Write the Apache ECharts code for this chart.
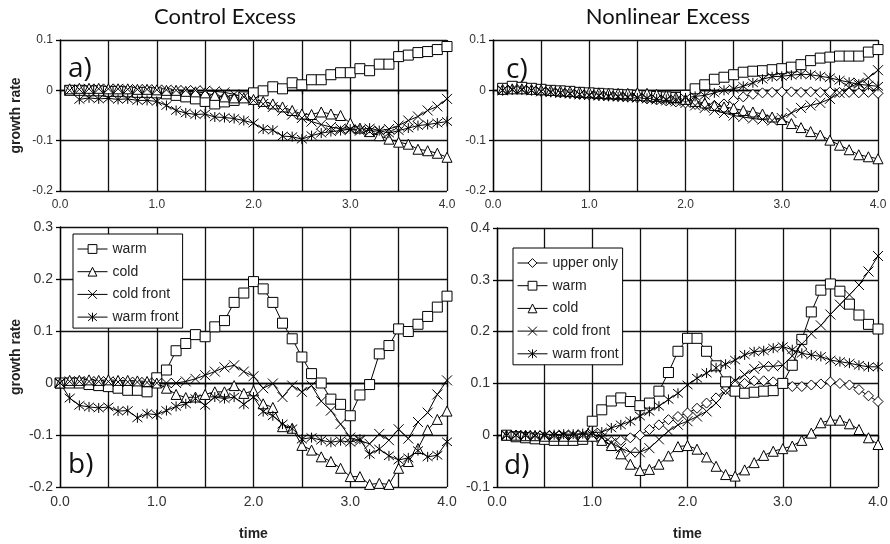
<!DOCTYPE html>
<html>
<head>
<meta charset="utf-8">
<script src="https://cdn.jsdelivr.net/npm/echarts@6/dist/echarts.min.js"></script>
<style>
  html, body { margin: 0; padding: 0; background: #fff; }
  #chart { width: 890px; height: 544px; }
</style>
</head>
<body>
<div id="chart"></div>
<script>
// time axis, one entry every 0.1
const time = [0.0, 0.1, 0.2, 0.3, 0.4, 0.5, 0.6, 0.7, 0.8, 0.9,
  1.0, 1.1, 1.2, 1.3, 1.4, 1.5, 1.6, 1.7, 1.8, 1.9,
  2.0, 2.1, 2.2, 2.3, 2.4, 2.5, 2.6, 2.7, 2.8, 2.9,
  3.0, 3.1, 3.2, 3.3, 3.4, 3.5, 3.6, 3.7, 3.8, 3.9, 4.0]

// a) control excess, top
const aWarm = [null, 0, 0, -0.001, -0.001, -0.002, -0.002, -0.003, -0.004, -0.004,
  -0.005, -0.007, -0.01, -0.013, -0.017, -0.022, -0.027, -0.023, -0.02, -0.013,
  -0.005, -0.001, 0.007, 0.003, 0.015, 0.011, 0.021, 0.021, 0.031, 0.035,
  0.035, 0.043, 0.039, 0.052, 0.052, 0.067, 0.07, 0.075, 0.077, 0.081, 0.087]
const aCold = [null, 0.003, 0.004, 0.004, 0.004, 0.003, 0.003, 0.003, 0.002, 0.002,
  0.001, 0.0, 0.0, -0.002, -0.003, -0.005, -0.01, -0.013, -0.015, -0.015,
  -0.018, -0.022, -0.027, -0.033, -0.04, -0.047, -0.048, -0.043, -0.047, -0.05,
  -0.065, -0.075, -0.082, -0.09, -0.097, -0.103, -0.107, -0.117, -0.12, -0.125, -0.133]
const aColdFront = [null, 0.0, 0.002, 0.003, 0.003, 0.003, 0.003, 0.002, 0.002, 0.002,
  0.001, 0.001, 0.0, 0.0, 0.0, -0.001, -0.002, -0.004, -0.008, -0.013,
  -0.02, -0.027, -0.033, -0.04, -0.048, -0.055, -0.062, -0.068, -0.073, -0.076,
  -0.078, -0.08, -0.082, -0.08, -0.077, -0.07, -0.06, -0.052, -0.04, -0.032, -0.017]
const aWarmFront = [null, null, -0.018, -0.015, -0.017, -0.016, -0.018, -0.017, -0.02, -0.02,
  -0.022, -0.03, -0.04, -0.045, -0.048, -0.047, -0.053, -0.054, -0.056, -0.06,
  -0.065, -0.077, -0.079, -0.091, -0.092, -0.097, -0.09, -0.085, -0.082, -0.08,
  -0.077, -0.078, -0.075, -0.08, -0.085, -0.08, -0.075, -0.07, -0.068, -0.065, -0.062]

// b) control excess, bottom
const bWarm = [0, 0, 0, -0.003, -0.005, -0.007, -0.01, -0.014, -0.014, -0.017,
  0.01, 0.025, 0.062, 0.076, 0.093, 0.089, 0.108, 0.12, 0.155, 0.173,
  0.195, 0.181, 0.155, 0.115, 0.085, 0.05, 0.018, 0, -0.031, -0.041,
  -0.063, -0.023, -0.003, 0.056, 0.072, 0.104, 0.099, 0.113, 0.128, 0.146, 0.167]
const bCold = [0, 0.005, 0.005, 0.006, 0.005, 0.006, 0.005, 0.005, 0.004, 0.003,
  0.0, -0.01, -0.022, -0.028, -0.027, -0.022, -0.017, -0.017, -0.005, -0.02,
  -0.015, -0.04, -0.047, -0.084, -0.087, -0.12, -0.129, -0.142, -0.151, -0.164,
  -0.18, -0.18, -0.195, -0.193, -0.195, -0.164, -0.151, -0.126, -0.09, -0.07, -0.054]
const bColdFront = [0, 0.003, 0.003, 0.003, 0.003, 0.003, 0.002, 0.002, 0.002, 0.001,
  0.0, 0.0, 0.0, 0.003, 0.008, 0.015, 0.022, 0.03, 0.034, 0.022,
  0.013, -0.01, -0.001, -0.027, -0.005, -0.017, -0.005, -0.035, -0.053, -0.079,
  -0.105, -0.111, -0.117, -0.098, -0.11, -0.089, -0.107, -0.075, -0.057, -0.022, 0.005]
const bWarmFront = [0, -0.029, -0.043, -0.046, -0.048, -0.046, -0.054, -0.053, -0.067, -0.059,
  -0.061, -0.053, -0.045, -0.04, -0.03, -0.043, -0.027, -0.03, -0.027, -0.041,
  -0.027, -0.055, -0.063, -0.079, -0.088, -0.108, -0.105, -0.11, -0.114, -0.111,
  -0.114, -0.108, -0.137, -0.127, -0.14, -0.148, -0.144, -0.13, -0.142, -0.139, -0.113]

// c) nonlinear excess, top
const cUpper = [null, 0.0, 0.002, 0.002, 0.0, -0.002, -0.003, -0.005, -0.006, -0.008,
  -0.009, -0.01, -0.011, -0.012, -0.013, -0.015, -0.017, -0.019, -0.021, -0.023,
  -0.025, -0.028, -0.03, -0.03, -0.027, -0.02, -0.013, -0.008, -0.005, -0.004,
  -0.003, -0.003, -0.004, -0.003, -0.004, -0.003, -0.004, -0.004, -0.005, -0.004, -0.006]
const cWarm = [null, 0.004, 0.008, 0.006, 0.004, 0.002, 0.0, -0.001, -0.002, -0.004,
  -0.005, -0.006, -0.007, -0.008, -0.009, -0.01, -0.011, -0.012, -0.013, -0.014,
  -0.01, 0.003, 0.011, 0.022, 0.026, 0.031, 0.036, 0.038, 0.039, 0.041,
  0.043, 0.046, 0.051, 0.059, 0.064, 0.066, 0.068, 0.068, 0.068, 0.076, 0.081]
const cCold = [null, 0.002, 0.003, 0.003, 0.002, 0.001, 0.0, -0.001, -0.002, -0.003,
  -0.004, -0.005, -0.006, -0.006, -0.006, -0.005, -0.006, -0.008, -0.01, -0.014,
  -0.018, -0.022, -0.025, -0.03, -0.033, -0.036, -0.04, -0.043, -0.047, -0.053,
  -0.058, -0.066, -0.074, -0.082, -0.089, -0.099, -0.109, -0.118, -0.128, -0.132, -0.136]
const cColdFront = [null, 0.0, 0.002, 0.002, 0.0, -0.002, -0.003, -0.005, -0.006, -0.008,
  -0.009, -0.01, -0.011, -0.012, -0.013, -0.014, -0.016, -0.018, -0.02, -0.022,
  -0.025, -0.03, -0.035, -0.04, -0.045, -0.05, -0.053, -0.056, -0.058, -0.06,
  -0.055, -0.045, -0.035, -0.03, -0.025, -0.017, -0.005, 0.005, 0.015, 0.025, 0.04]
const cWarmFront = [null, 0.0, 0.001, 0.001, 0.0, -0.002, -0.004, -0.005, -0.007, -0.008,
  -0.01, -0.011, -0.012, -0.013, -0.014, -0.015, -0.016, -0.017, -0.018, -0.018,
  -0.015, -0.012, -0.01, -0.005, 0.0, 0.003, 0.008, 0.015, 0.022, 0.027,
  0.028, 0.03, 0.032, 0.031, 0.028, 0.025, 0.02, 0.016, 0.012, 0.01, 0.008]

// d) nonlinear excess, bottom
const dUpper = [null, 0.0, 0.0, -0.001, -0.002, -0.003, -0.004, -0.005, -0.005, -0.005,
  -0.004, -0.008, -0.012, -0.01, -0.005, 0.0, 0.011, 0.02, 0.03, 0.036,
  0.043, 0.052, 0.062, 0.072, 0.088, 0.099, 0.1, 0.105, 0.105, 0.103,
  0.1, 0.094, 0.094, 0.097, 0.099, 0.103, 0.1, 0.097, 0.088, 0.076, 0.065]
const dWarm = [null, 0.0, -0.003, -0.005, -0.007, -0.008, -0.01, -0.01, -0.01, -0.008,
  0.027, 0.049, 0.066, 0.072, 0.065, 0.057, 0.062, 0.085, 0.121, 0.162,
  0.187, 0.187, 0.162, 0.134, 0.103, 0.085, 0.081, 0.083, 0.085, 0.086,
  0.1, 0.135, 0.185, 0.238, 0.28, 0.292, 0.278, 0.253, 0.232, 0.214, 0.205]
const dCold = [null, 0.0, 0.0, -0.001, -0.001, -0.002, -0.002, -0.002, -0.002, -0.002,
  -0.002, -0.01, -0.02, -0.036, -0.056, -0.068, -0.066, -0.056, -0.04, -0.022,
  -0.02, -0.027, -0.042, -0.06, -0.076, -0.079, -0.067, -0.053, -0.039, -0.031,
  -0.026, -0.021, -0.01, 0.004, 0.024, 0.029, 0.029, 0.022, 0.011, -0.005, -0.018]
const dColdFront = [null, 0.0, 0.0, 0.0, -0.001, -0.001, -0.001, -0.001, -0.001, 0.0,
  0.0, -0.005, -0.015, -0.025, -0.033, -0.033, -0.025, -0.008, 0.008, 0.02,
  0.027, 0.036, 0.046, 0.062, 0.085, 0.105, 0.117, 0.128, 0.133, 0.133,
  0.135, 0.153, 0.176, 0.196, 0.212, 0.233, 0.252, 0.271, 0.29, 0.316, 0.346]
const dWarmFront = [null, 0.0, 0.0, 0.0, 0.0, 0.001, 0.001, 0.002, 0.002, 0.003,
  0.005, 0.006, 0.014, 0.02, 0.027, 0.037, 0.046, 0.056, 0.069, 0.081,
  0.097, 0.11, 0.12, 0.13, 0.137, 0.145, 0.155, 0.161, 0.163, 0.168,
  0.171, 0.165, 0.158, 0.155, 0.152, 0.145, 0.142, 0.139, 0.135, 0.132, 0.132]

const FONT = 'Liberation Sans'

// marker for each series name
const markers = {
  'upper only': { symbol: 'diamond', size: 10 },
  'warm': { symbol: 'rect', size: 10 },
  'cold': { symbol: 'triangle', size: 10 },
  'cold front': { symbol: 'path://M0,0L10,10M10,0L0,10', size: 10 },
  'warm front': { symbol: 'path://M0,0L10,10M10,0L0,10M5,-1L5,11', size: 10 }
}

function pairs(vals) {
  const out = []
  vals.forEach((v, i) => { if (v !== null) out.push([time[i], v]) })
  return out
}

function line(name, vals, idx) {
  const m = markers[name]
  return {
    type: 'line',
    name: name,
    xAxisIndex: idx,
    yAxisIndex: idx,
    data: pairs(vals),
    symbol: m.symbol,
    symbolSize: m.size,
    showAllSymbol: true,
    lineStyle: { color: '#000', width: 1 },
    itemStyle: { color: '#fff', borderColor: '#000', borderWidth: 1 },
    emphasis: { disabled: true }
  }
}

function xAx(idx, fs, withName) {
  return {
    type: 'value',
    gridIndex: idx,
    min: 0,
    max: 4,
    interval: 0.5,
    name: withName ? 'time' : '',
    nameLocation: 'middle',
    nameGap: 40,
    nameTextStyle: { fontFamily: FONT, fontSize: 14, fontWeight: 'bold', color: '#222' },
    axisLine: { lineStyle: { color: '#000', width: 1.3 } },
    axisTick: { length: 4, lineStyle: { color: '#000', width: 1.3 } },
    splitLine: { lineStyle: { color: '#111', width: 1.3 } },
    axisLabel: {
      fontFamily: FONT, fontSize: fs, color: '#333', margin: 8,
      showMinLabel: true, showMaxLabel: true,
      formatter: v => (Math.abs(v - Math.round(v)) < 1e-6 ? v.toFixed(1) : '')
    }
  }
}

function yAx(idx, fs, min, max, withName) {
  return {
    type: 'value',
    gridIndex: idx,
    min: min,
    max: max,
    interval: 0.1,
    name: withName ? 'growth rate' : '',
    nameLocation: 'middle',
    nameGap: 37,
    nameTextStyle: { fontFamily: FONT, fontSize: 14, fontWeight: 'bold', color: '#222' },
    axisLine: { show: true, lineStyle: { color: '#000', width: 1.3 } },
    axisTick: { show: true, length: 4, lineStyle: { color: '#000', width: 1.3 } },
    splitLine: { lineStyle: { color: '#111', width: 1.3 } },
    axisLabel: {
      fontFamily: FONT, fontSize: fs, color: '#333', margin: 7,
      formatter: v => String(Math.round(v * 10) / 10)
    }
  }
}

function legend(names, left, top) {
  return {
    data: names,
    orient: 'vertical',
    left: left,
    top: top,
    itemWidth: 30,
    itemHeight: 11,
    itemGap: 6.7,
    padding: [7, 4, 3, 4],
    backgroundColor: '#fff',
    borderColor: '#000',
    borderWidth: 1,
    borderRadius: 0,
    selectedMode: false,
    lineStyle: { width: 1, color: '#000' },
    itemStyle: { color: '#fff', borderColor: '#000', borderWidth: 1 },
    textStyle: { fontFamily: FONT, fontSize: 14, color: '#222', lineHeight: 16 }
  }
}

function panelText(text, x, y, size) {
  return {
    type: 'text',
    x: x,
    y: y,
    z: 50,
    style: { text: text, font: size + 'px "Open Sans"', fill: '#111', verticalAlign: 'middle' }
  }
}

const chart = echarts.init(document.getElementById('chart'))
const option = {
  animation: false,
  textStyle: { fontFamily: FONT },
  grid: [
    { left: 60, width: 387, top: 40, height: 151, outerBoundsMode: 'none' },
    { left: 60, width: 387, top: 227, height: 260, outerBoundsMode: 'none' },
    { left: 493, width: 385, top: 40, height: 151, outerBoundsMode: 'none' },
    { left: 497, width: 381, top: 228, height: 259, outerBoundsMode: 'none' }
  ],
  xAxis: [xAx(0, 12, false), xAx(1, 14, true), xAx(2, 12, false), xAx(3, 14, true)],
  yAxis: [yAx(0, 12, -0.2, 0.1, true), yAx(1, 14, -0.2, 0.3, true),
    yAx(2, 12, -0.2, 0.1, false), yAx(3, 14, -0.1, 0.4, false)],
  legend: [
    legend(['warm', 'cold', 'cold front', 'warm front'], 73, 234),
    legend(['upper only', 'warm', 'cold', 'cold front', 'warm front'], 513, 248)
  ],
  graphic: [
    { type: 'text', x: 225, y: 17, style: { text: 'Control Excess', font: '22px Lato', fill: '#111', align: 'center', verticalAlign: 'middle' } },
    { type: 'text', x: 668, y: 17, style: { text: 'Nonlinear Excess', font: '22px Lato', fill: '#111', align: 'center', verticalAlign: 'middle' } },
    panelText('a)', 68, 69, 28),
    panelText('b)', 68, 465, 28),
    panelText('c)', 506, 70, 28),
    panelText('d)', 504, 466, 28)
  ],
  series: [
    line('warm', aWarm, 0), line('cold', aCold, 0), line('cold front', aColdFront, 0), line('warm front', aWarmFront, 0),
    line('warm', bWarm, 1), line('cold', bCold, 1), line('cold front', bColdFront, 1), line('warm front', bWarmFront, 1),
    line('upper only', cUpper, 2), line('warm', cWarm, 2), line('cold', cCold, 2), line('cold front', cColdFront, 2), line('warm front', cWarmFront, 2),
    line('upper only', dUpper, 3), line('warm', dWarm, 3), line('cold', dCold, 3), line('cold front', dColdFront, 3), line('warm front', dWarmFront, 3)
  ]
}
chart.setOption(option)
</script>
</body>
</html>
